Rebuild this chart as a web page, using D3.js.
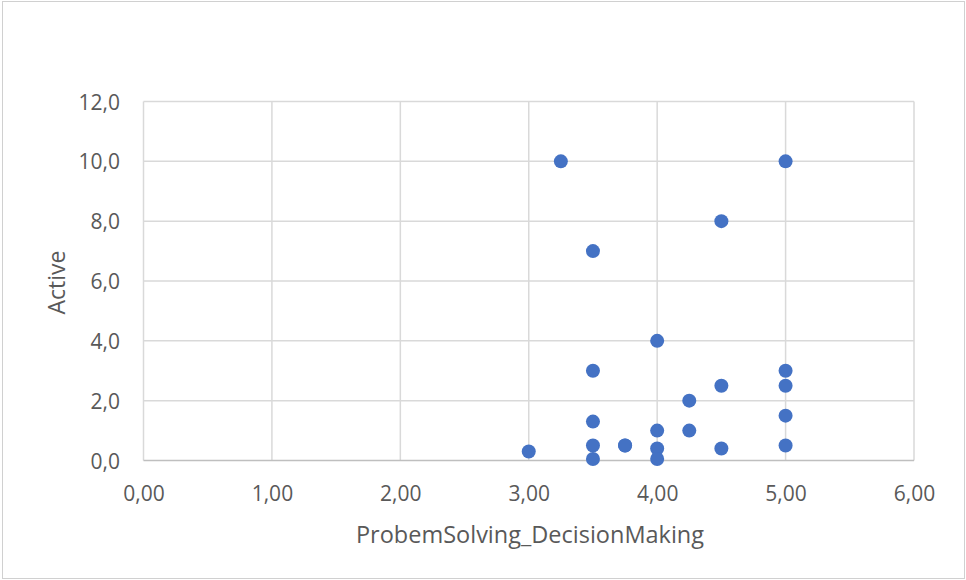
<!DOCTYPE html>
<html>
<head>
<meta charset="utf-8">
<script src="https://cdn.jsdelivr.net/npm/d3@7"></script>
<style>
  body { margin: 0; background: #fff; }
  text { font-family: "Open Sans", "Liberation Sans", sans-serif; fill: #595959; }
</style>
</head>
<body>
<div id="chart"></div>
<script>
// scatter: ProbemSolving_DecisionMaking vs Active

const xValues = [3.00, 3.25, 3.50, 3.50, 3.50, 3.50, 3.50, 3.75, 3.75, 4.00, 4.00, 4.00, 4.00, 4.25, 4.25, 4.50, 4.50, 4.50, 5.00, 5.00, 5.00, 5.00, 5.00];
const yValues = [0.3, 10.0, 7.0, 3.0, 1.3, 0.5, 0.05, 0.5, 0.5, 4.0, 1.0, 0.4, 0.05, 2.0, 1.0, 8.0, 2.5, 0.4, 10.0, 3.0, 2.5, 1.5, 0.5];
const xTicks = [0, 1, 2, 3, 4, 5, 6];
const yTicks = [0, 2, 4, 6, 8, 10, 12];

const width = 966, height = 580;
const plot = { left: 143.5, right: 914, top: 101.5, bottom: 460.5 };

const fmtX = d => d3.format(".2f")(d).replace(".", ",");
const fmtY = d => d3.format(".1f")(d).replace(".", ",");

const svg = d3.select("#chart").append("svg")
  .attr("width", width)
  .attr("height", height);

// chart frame
svg.append("rect")
  .attr("x", 2.5).attr("y", 1.5)
  .attr("width", 962).attr("height", 577)
  .attr("fill", "#fff")
  .attr("stroke", "#d0d0d0")
  .attr("stroke-width", 1);

const x = d3.scaleLinear().domain([0, 6]).range([plot.left, plot.right]);
const y = d3.scaleLinear().domain([0, 12]).range([plot.bottom, plot.top]);

// gridlines
svg.append("g")
  .selectAll("line.vgrid")
  .data(xTicks)
  .enter().append("line")
  .attr("x1", d => x(d)).attr("x2", d => x(d))
  .attr("y1", plot.top).attr("y2", plot.bottom)
  .attr("stroke", "#d9d9d9").attr("stroke-width", 1.5);

svg.append("g")
  .selectAll("line.hgrid")
  .data(yTicks)
  .enter().append("line")
  .attr("x1", plot.left).attr("x2", plot.right)
  .attr("y1", d => y(d)).attr("y2", d => y(d))
  .attr("stroke", d => d === 0 ? "#bfbfbf" : "#d9d9d9")
  .attr("stroke-width", 1.5);

// axes labels via d3 axis, domain/tick lines hidden
const xAxis = svg.append("g")
  .attr("transform", `translate(0,${plot.bottom})`)
  .call(d3.axisBottom(x).tickValues(xTicks).tickFormat(fmtX).tickSize(0).tickPadding(26));
xAxis.select(".domain").remove();
xAxis.selectAll("text").attr("font-size", 21).attr("fill", "#595959")
  .style("font-family", "'Open Sans', 'Liberation Sans', sans-serif");

const yAxis = svg.append("g")
  .attr("transform", `translate(${plot.left},0)`)
  .call(d3.axisLeft(y).tickValues(yTicks).tickFormat(fmtY).tickSize(0).tickPadding(23.5));
yAxis.select(".domain").remove();
yAxis.selectAll("text").attr("font-size", 21).attr("fill", "#595959")
  .attr("dy", "0.36em")
  .style("font-family", "'Open Sans', 'Liberation Sans', sans-serif");

// axis titles
svg.append("text")
  .attr("x", 530)
  .attr("y", 542.5)
  .attr("text-anchor", "middle")
  .attr("font-size", 23.5)
  .text("ProbemSolving_DecisionMaking");

svg.append("text")
  .attr("transform", `translate(65,282.5) rotate(-90)`)
  .attr("text-anchor", "middle")
  .attr("font-size", 23)
  .text("Active");

// points
svg.append("g")
  .selectAll("circle")
  .data(xValues.map((v, i) => ({ x: v, y: yValues[i] })))
  .enter().append("circle")
  .attr("cx", d => x(d.x))
  .attr("cy", d => y(d.y))
  .attr("r", 7)
  .attr("fill", "#4472c4");
</script>
</body>
</html>
